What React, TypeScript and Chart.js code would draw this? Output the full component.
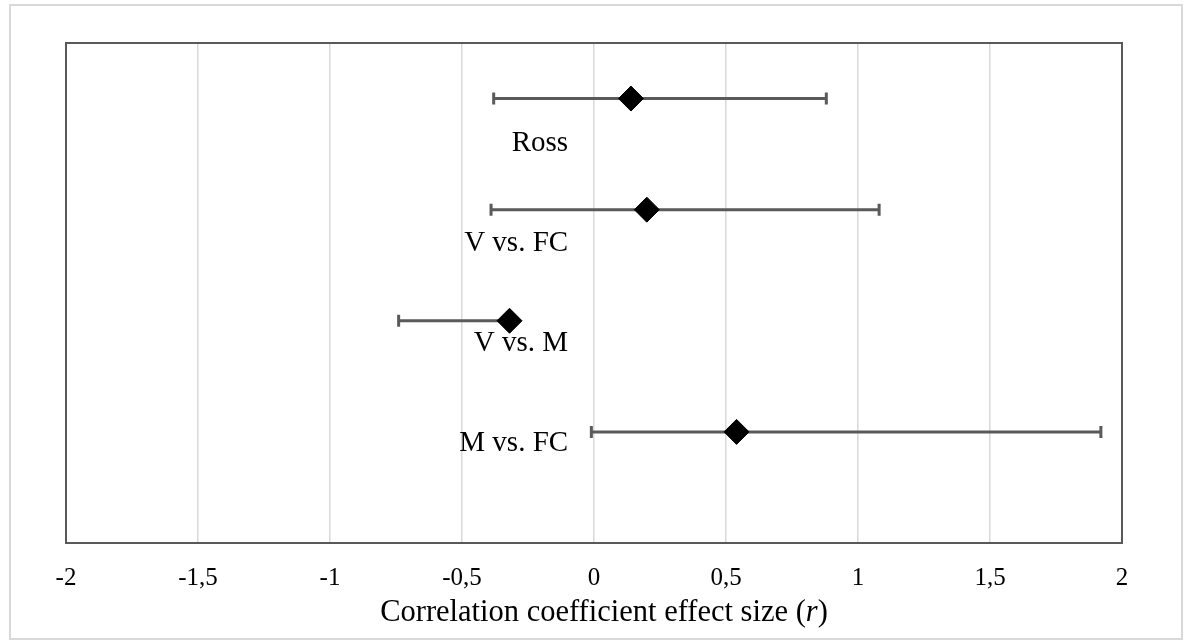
import React, { useEffect, useRef } from "react";
import { Chart, registerables } from "chart.js";

Chart.register(...registerables);

const categories = ["Ross", "V vs. FC", "V vs. M", "M vs. FC"];
const effectSizes = [0.14, 0.2, -0.32, 0.54];
const lowerCI = [-0.38, -0.39, -0.74, -0.01];
const upperCI = [0.88, 1.08, -0.32, 1.92];
const rowY = [4, 3, 2, 1];
const labelY = [3.6, 2.7, 1.8, 0.9];
const labelX = -0.098;
const xMin = -2;
const xMax = 2;
const xStep = 0.5;
const axisTitleParts = [
  { text: "Correlation coefficient effect size (", italic: false },
  { text: "r", italic: true },
  { text: ")", italic: false },
];

const FONT = "'Liberation Serif', 'Times New Roman', serif";

export default function App() {
  const ref = useRef<HTMLCanvasElement | null>(null);

  useEffect(() => {
    const canvas = ref.current;
    if (!canvas) return;

    const decor = {
      id: "decor",
      beforeDraw(chart: any) {
        const ctx = chart.ctx;
        ctx.save();
        ctx.fillStyle = "#ffffff";
        ctx.fillRect(0, 0, chart.width, chart.height);
        ctx.strokeStyle = "#d9d9d9";
        ctx.lineWidth = 2;
        ctx.strokeRect(10, 5, 1172, 634);
        ctx.restore();
      },
      beforeDatasetsDraw(chart: any) {
        const ctx = chart.ctx;
        const xs = chart.scales.x;
        const ys = chart.scales.y;
        const a = chart.chartArea;
        ctx.save();
        ctx.strokeStyle = "#595959";
        ctx.lineWidth = 2;
        ctx.strokeRect(a.left, a.top, a.right - a.left, a.bottom - a.top);
        ctx.strokeStyle = "#5a5a5a";
        ctx.lineWidth = 3;
        for (let i = 0; i < effectSizes.length; i++) {
          const y = ys.getPixelForValue(rowY[i]);
          const x0 = xs.getPixelForValue(lowerCI[i]);
          const x1 = xs.getPixelForValue(upperCI[i]);
          ctx.beginPath();
          ctx.moveTo(x0, y);
          ctx.lineTo(x1, y);
          ctx.moveTo(x0, y - 6);
          ctx.lineTo(x0, y + 6);
          ctx.moveTo(x1, y - 6);
          ctx.lineTo(x1, y + 6);
          ctx.stroke();
        }
        ctx.restore();
      },
      afterDatasetsDraw(chart: any) {
        const ctx = chart.ctx;
        const xs = chart.scales.x;
        const ys = chart.scales.y;
        ctx.save();
        ctx.fillStyle = "#000000";
        ctx.font = `29px ${FONT}`;
        ctx.textAlign = "right";
        ctx.textBaseline = "middle";
        const lx = xs.getPixelForValue(labelX);
        for (let i = 0; i < categories.length; i++) {
          ctx.fillText(categories[i], lx, ys.getPixelForValue(labelY[i]));
        }
        // axis title
        ctx.textAlign = "left";
        ctx.textBaseline = "middle";
        let total = 0;
        const widths: number[] = [];
        for (const p of axisTitleParts) {
          ctx.font = `${p.italic ? "italic " : ""}30.5px ${FONT}`;
          const w = ctx.measureText(p.text).width;
          widths.push(w);
          total += w;
        }
        let tx = (chart.chartArea.left + chart.chartArea.right) / 2 + 10 - total / 2;
        const ty = 613;
        axisTitleParts.forEach((p, i) => {
          ctx.font = `${p.italic ? "italic " : ""}30.5px ${FONT}`;
          ctx.fillText(p.text, tx, ty);
          tx += widths[i];
        });
        ctx.restore();
      },
    };

    const chart = new Chart(canvas, {
      type: "scatter",
      data: {
        datasets: [
          {
            label: "Effect size",
            data: effectSizes.map((v, i) => ({ x: v, y: rowY[i] })),
            pointStyle: "rectRot",
            pointRadius: 12.5,
            pointHoverRadius: 12.5,
            backgroundColor: "#000000",
            borderColor: "#000000",
            borderWidth: 1,
          },
        ],
      },
      options: {
        animation: false,
        responsive: false,
        maintainAspectRatio: false,
        layout: { padding: { left: 66, right: 70, top: 43, bottom: 0 } },
        plugins: {
          legend: { display: false },
          tooltip: { enabled: false },
          title: { display: false },
        },
        scales: {
          x: {
            type: "linear",
            min: xMin,
            max: xMax,
            afterFit: (scale: any) => {
              scale.height = 97;
            },
            ticks: {
              stepSize: xStep,
              padding: 20,
              color: "#000000",
              font: { family: FONT, size: 25 },
              callback: (v: any) => String(v).replace(".", ","),
            },
            grid: {
              color: "#d9d9d9",
              lineWidth: 1.5,
              drawTicks: false,
            },
            border: { display: false },
          },
          y: {
            type: "linear",
            min: 0,
            max: 4.5,
            display: false,
          },
        },
      },
      plugins: [decor],
    });

    return () => chart.destroy();
  }, []);

  return (
    <div style={{ position: "fixed", left: 0, top: 0, width: 1192, height: 640 }}>
      <canvas ref={ref} width={1192} height={640} style={{ display: "block" }} />
    </div>
  );
}
